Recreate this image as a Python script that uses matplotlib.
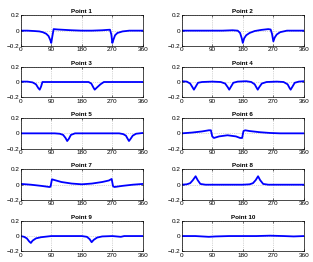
import matplotlib
matplotlib.use("Agg")
import matplotlib.pyplot as plt

# Kurven der 10 Punkte (Winkel in Grad, Wert)
x1 = [0, 20, 40, 55, 65, 75, 82, 87, 90, 93, 97, 110, 130, 150, 180, 210, 240, 255, 263, 267, 270, 273, 278, 285, 300, 320, 340, 360]
y1 = [0.0, 0.0, -0.005, -0.01, -0.02, -0.04, -0.07, -0.12, -0.16, -0.08, 0.02, 0.015, 0.01, 0.005, 0.0, 0.0, 0.005, 0.01, 0.012, -0.05, -0.16, -0.12, -0.06, -0.03, -0.01, 0.0, 0.0, 0.0]

x2 = [0, 40, 80, 120, 150, 165, 172, 177, 180, 184, 190, 200, 215, 235, 255, 262, 266, 270, 274, 280, 290, 310, 330, 360]
y2 = [0.0, 0.0, 0.0, 0.0, 0.005, 0.0, -0.03, -0.1, -0.16, -0.1, -0.06, -0.03, -0.005, 0.01, 0.02, 0.015, -0.04, -0.14, -0.09, -0.05, -0.02, 0.0, 0.0, 0.0]

x3 = [0, 20, 35, 45, 52, 56, 60, 64, 75, 120, 180, 200, 208, 214, 218, 225, 235, 245, 270, 320, 360]
y3 = [0.005, 0.005, -0.005, -0.03, -0.08, -0.1, -0.06, 0.0, 0.0, 0.0, 0.0, 0.0, -0.02, -0.07, -0.1, -0.07, -0.03, 0.0, 0.0, 0.0, 0.0]

x4 = [0, 15, 25, 32, 36, 40, 48, 60, 90, 115, 128, 136, 140, 144, 152, 165, 190, 205, 215, 220, 224, 228, 236, 250, 280, 300, 312, 318, 321, 325, 333, 345, 360]
y4 = [0.01, 0.005, -0.02, -0.07, -0.1, -0.07, -0.01, 0.0, 0.005, 0.0, -0.02, -0.07, -0.1, -0.07, -0.01, 0.005, 0.01, 0.0, -0.03, -0.07, -0.1, -0.07, -0.02, 0.0, 0.005, 0.0, -0.03, -0.08, -0.1, -0.07, -0.01, 0.005, 0.01]

x5 = [0, 60, 100, 115, 125, 132, 137, 142, 148, 160, 200, 260, 290, 302, 310, 315, 319, 324, 330, 340, 360]
y5 = [0.0, 0.0, 0.0, -0.005, -0.02, -0.06, -0.1, -0.07, -0.02, 0.0, 0.0, 0.0, 0.0, -0.01, -0.03, -0.07, -0.1, -0.07, -0.03, -0.005, 0.005]

x6 = [0, 30, 60, 80, 86, 90, 95, 110, 135, 160, 172, 178, 182, 187, 200, 230, 260, 290, 360]
y6 = [0.0, 0.01, 0.025, 0.04, 0.04, -0.04, -0.06, -0.04, -0.025, -0.04, -0.06, -0.06, 0.03, 0.04, 0.03, 0.015, 0.005, 0.0, 0.0]

x7 = [0, 30, 60, 85, 88, 92, 100, 120, 150, 180, 210, 240, 260, 268, 272, 276, 300, 330, 360]
y7 = [0.01, 0.0, -0.015, -0.03, -0.025, 0.07, 0.06, 0.035, 0.015, 0.005, 0.015, 0.035, 0.055, 0.075, -0.02, -0.03, -0.015, 0.0, 0.01]

x8 = [0, 15, 25, 33, 41, 47, 55, 70, 120, 180, 200, 210, 218, 225, 231, 240, 255, 300, 360]
y8 = [0.0, 0.005, 0.02, 0.06, 0.11, 0.06, 0.01, 0.0, 0.0, 0.0, 0.005, 0.02, 0.06, 0.11, 0.06, 0.01, 0.0, 0.0, 0.0]

x9 = [0, 10, 18, 25, 30, 35, 45, 60, 90, 150, 180, 195, 203, 209, 215, 225, 240, 270, 295, 305, 330, 360]
y9 = [0.0, -0.01, -0.03, -0.07, -0.09, -0.06, -0.03, -0.015, 0.0, 0.0, 0.0, -0.01, -0.04, -0.08, -0.05, -0.02, -0.005, 0.0, -0.01, 0.0, 0.0, 0.0]

x10 = [0, 40, 60, 80, 100, 140, 180, 220, 260, 300, 330, 360]
y10 = [0.0, 0.0, -0.005, -0.01, -0.005, 0.0, 0.0, 0.0, 0.005, 0.0, -0.005, 0.0]

titles = ["Point %d" % i for i in range(1, 11)]
xs = [x1, x2, x3, x4, x5, x6, x7, x8, x9, x10]
ys = [y1, y2, y3, y4, y5, y6, y7, y8, y9, y10]

xticks = [0, 90, 180, 270, 360]
yticks = [-0.2, 0, 0.2]
yticklabels = ["\u22120.2", "0", "0.2"]

plt.rcParams["font.family"] = ["Liberation Sans", "DejaVu Sans"]

W, H = 313, 262
fig = plt.figure(figsize=(W / 100, H / 100), dpi=100)

# Achsenpositionen in Pixeln
col_left = [20.7, 181.7]
col_width = 122.2
row_top0 = 15.3
row_step = 51.35
row_h = 30.7

for i in range(10):
    r, c = divmod(i, 2)
    top = row_top0 + r * row_step
    ax = fig.add_axes([col_left[c] / W, 1 - (top + row_h) / H, col_width / W, row_h / H])
    ax.plot(xs[i], ys[i], color="#0000ff", linewidth=1.3)
    ax.set_xlim(0, 360)
    ax.set_ylim(-0.2, 0.2)
    ax.set_xticks(xticks)
    ax.set_yticks(yticks)
    ax.set_yticklabels(yticklabels)
    ax.grid(True, linestyle=":", color="#b0b0b0", linewidth=0.5)
    ax.tick_params(direction="in", length=1.5, width=0.4, labelsize=4.6, pad=1,
                   top=True, right=True)
    for s in ax.spines.values():
        s.set_linewidth(0.5)
    ax.set_title(titles[i], fontsize=4.5, fontweight="bold", pad=1.5)

fig.savefig("out.png", dpi=100)
